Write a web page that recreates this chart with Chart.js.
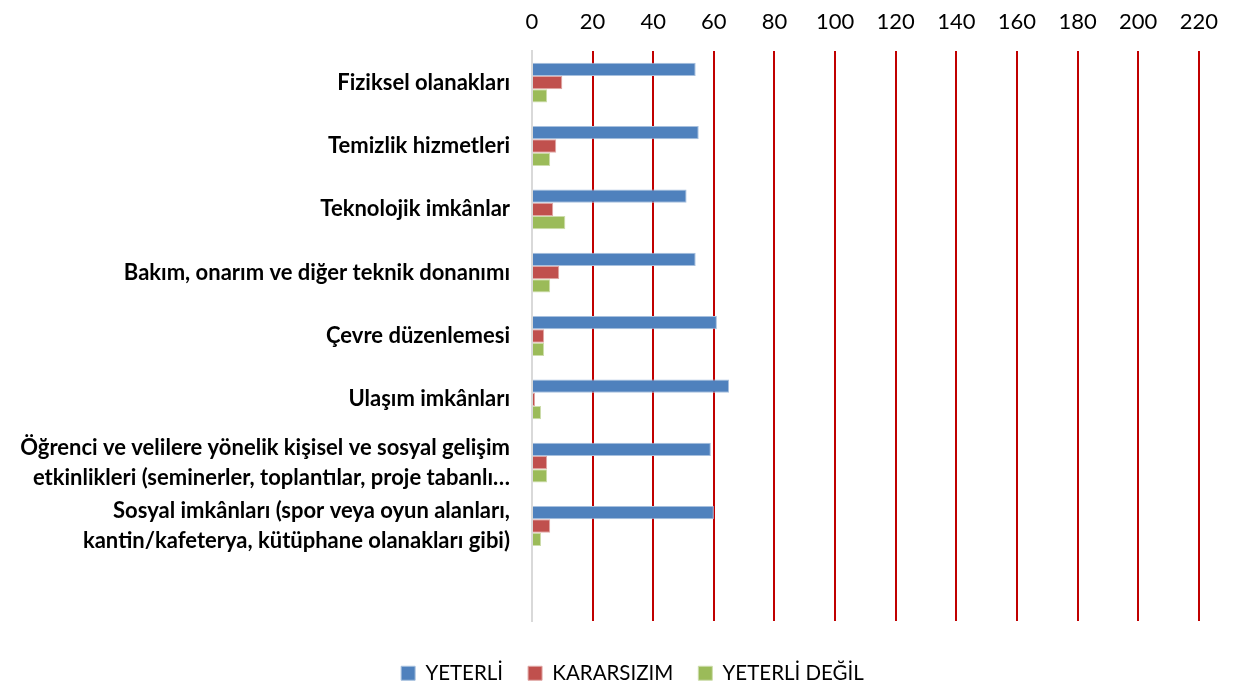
<!DOCTYPE html>
<html>
<head>
<meta charset="utf-8">
<script src="https://cdn.jsdelivr.net/npm/chart.js@4.4.0/dist/chart.umd.min.js"></script>
<style>
  html, body { margin: 0; padding: 0; background: #fff; }
  #wrap { width: 1234px; height: 684px; position: relative; }
</style>
</head>
<body>
<div id="wrap"><canvas id="chart"></canvas></div>
<script>
// categories (last one is an empty slot, as in the original sheet)
const categories = [
  'Fiziksel olanakları',
  'Temizlik hizmetleri',
  'Teknolojik imkânlar',
  'Bakım, onarım ve diğer teknik donanımı',
  'Çevre düzenlemesi',
  'Ulaşım imkânları',
  ['Öğrenci ve velilere yönelik kişisel ve sosyal gelişim', 'etkinlikleri (seminerler, toplantılar, proje tabanlı…'],
  ['Sosyal imkânları (spor veya oyun alanları,', 'kantin/kafeterya, kütüphane olanakları gibi)'],
  ''
];
const yeterli      = [54, 55, 51, 54, 61, 65, 59, 60, null];
const kararsizim   = [10, 8, 7, 9, 4, 1, 5, 6, null];
const yeterliDegil = [5, 6, 11, 6, 4, 3, 5, 3, null];
const seriesNames = ['YETERLİ', 'KARARSIZIM', 'YETERLİ DEĞİL'];
const xTicks = [0, 20, 40, 60, 80, 100, 120, 140, 160, 180, 200, 220];

const FONT = 'Lato, "Open Sans", sans-serif';

function bars(label, data, fill, edge) {
  return {
    label: label,
    data: data,
    backgroundColor: fill,
    borderColor: edge,
    borderWidth: 1,
    categoryPercentage: 0.63,
    barPercentage: 1.0
  };
}

// legend in the original is centred a bit right of the page middle
const legendShift = {
  id: 'legendShift',
  beforeDraw(chart) {
    if (chart.legend) chart.legend.left = 54;
  }
};

const chart = new Chart(document.getElementById('chart'), {
  type: 'bar',
  data: {
    labels: categories,
    datasets: [
      bars(seriesNames[0], yeterli, '#4F81BD', '#A7C0DE'),
      bars(seriesNames[1], kararsizim, '#C0504D', '#E0A8A6'),
      bars(seriesNames[2], yeterliDegil, '#9BBB59', '#CDDDAC')
    ]
  },
  plugins: [legendShift],
  options: {
    indexAxis: 'y',
    responsive: true,
    maintainAspectRatio: false,
    animation: false,
    layout: { padding: { left: 0, right: 23, top: 0, bottom: 0 } },
    plugins: {
      legend: {
        position: 'bottom',
        labels: {
          boxWidth: 14,
          boxHeight: 14,
          padding: 25,
          color: '#000',
          font: { family: FONT, size: 20.5 }
        }
      },
      tooltip: { enabled: false }
    },
    scales: {
      x: {
        position: 'top',
        min: 0,
        max: 220,
        afterBuildTicks: function (s) { s.ticks = xTicks.map(v => ({ value: v })); },
        afterFit: function (s) { s.height = 51; },
        ticks: {
          color: '#000',
          padding: 16,
          font: { family: FONT, size: 22 }
        },
        grid: {
          drawTicks: false,
          lineWidth: 2,
          color: function (c) { return c.tick && c.tick.value === 0 ? 'rgba(0,0,0,0)' : '#C00000'; }
        },
        border: { display: false }
      },
      x2: {
        position: 'bottom',
        axis: 'x',
        display: true,
        afterFit: function (s) { s.height = 17; },
        ticks: { display: false },
        grid: { display: false, drawTicks: false },
        border: { display: false }
      },
      y: {
        afterFit: function (s) { s.width = 532; },
        ticks: {
          color: '#000',
          padding: 22,
          font: { family: FONT, size: 22, weight: 'bold', lineHeight: 1.35 }
        },
        grid: { display: false, drawTicks: false },
        border: { display: true, color: '#D9D9D9', width: 2 }
      }
    }
  }
});

// keep the legend strip short so it sits low, like the original
const legendFit = chart.legend.fit;
chart.legend.fit = function () {
  legendFit.call(this);
  this.height = 46;
};
chart.update();
</script>
</body>
</html>
